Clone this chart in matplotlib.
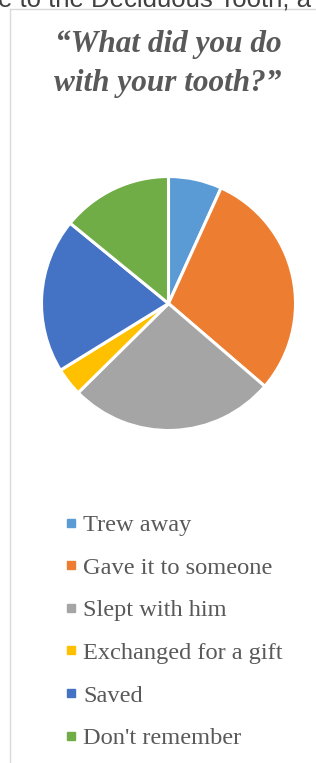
import matplotlib

matplotlib.use("Agg")

import matplotlib.pyplot as plt
from matplotlib.lines import Line2D

# =========================
# Data (share of answers, %)
# =========================
labels = [
    "Trew away",
    "Gave it to someone",
    "Slept with him",
    "Exchanged for a gift",
    "Saved",
    "Don't remember",
]
values = [6.8, 29.5, 26.3, 3.6, 19.7, 14.1]
colors = ["#5B9BD5", "#ED7D31", "#A5A5A5", "#FFC000", "#4472C4", "#70AD47"]

title = "\u201cWhat did you do\nwith your tooth?\u201d"
header = "e to the Deciduous Tooth, a"

# =========================
# Figure (pixel based layout)
# =========================
W, H = 316, 763
fig = plt.figure(figsize=(W / 100, H / 100), dpi=100)
fig.patch.set_facecolor("white")


def fx(px):
    return px / W


def fy(py):
    return 1 - py / H


# clipped header text from the page above the chart
fig.text(fx(-2), fy(7), header, ha="left", va="baseline",
         fontsize=18.5, family="Liberation Sans", color="#404040")

# chart frame (left and top edges visible)
fig.add_artist(Line2D([fx(10.5), fx(10.5)], [fy(8.5), fy(H + 5)],
                      color="#d9d9d9", lw=1.0))
fig.add_artist(Line2D([fx(10.5), fx(W + 5)], [fy(8.5), fy(8.5)],
                      color="#d9d9d9", lw=1.0))

# title
fig.text(fx(168), fy(64), title, ha="center", va="center",
         fontsize=22.5, family="Liberation Serif", fontweight="bold",
         fontstyle="italic", color="#595959", linespacing=1.45)

# =========================
# Pie
# =========================
cx, cy, r = 168.5, 303.5, 127
ax = fig.add_axes([fx(cx - r), fy(cy + r), 2 * r / W, 2 * r / H])
wedges, _ = ax.pie(
    values,
    colors=colors,
    startangle=90,
    counterclock=False,
    wedgeprops=dict(edgecolor="white", linewidth=2.2, clip_on=False),
)
ax.set_xlim(-1, 1)
ax.set_ylim(-1, 1)
ax.set_aspect("equal")
ax.axis("off")

# =========================
# Legend
# =========================
handles = [
    Line2D([], [], marker="s", linestyle="none", markersize=5.8,
           markerfacecolor=c, markeredgecolor=c)
    for c in colors
]
leg = fig.legend(
    handles,
    labels,
    loc="upper left",
    bbox_to_anchor=(fx(65), fy(514)),
    frameon=False,
    prop=dict(family="Liberation Serif", size=17.6),
    labelcolor="#595959",
    handlelength=0.45,
    handletextpad=0.3,
    labelspacing=0.84,
    borderpad=0,
    borderaxespad=0,
)

fig.savefig("out.png", dpi=100)
